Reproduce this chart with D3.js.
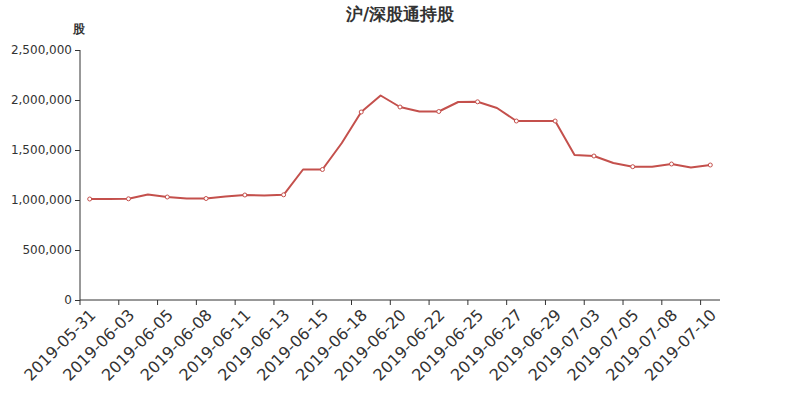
<!DOCTYPE html>
<html>
<head>
<meta charset="utf-8">
<script src="https://cdn.jsdelivr.net/npm/d3@7"></script>
<style>
  body { margin: 0; background: #fff; }
  svg { display: block; font-family: "DejaVu Sans", sans-serif; }
</style>
</head>
<body>
<svg id="chart" width="800" height="400"></svg>
<script>
const categories = [
  "2019-05-31","2019-06-01","2019-06-03","2019-06-04","2019-06-05","2019-06-06",
  "2019-06-08","2019-06-10","2019-06-11","2019-06-12","2019-06-13","2019-06-14",
  "2019-06-15","2019-06-17","2019-06-18","2019-06-19","2019-06-20","2019-06-21",
  "2019-06-22","2019-06-24","2019-06-25","2019-06-26","2019-06-27","2019-06-28",
  "2019-06-29","2019-07-02","2019-07-03","2019-07-04","2019-07-05","2019-07-06",
  "2019-07-08","2019-07-09","2019-07-10"
];
const holdings = [
  1010000, 1010000, 1012000, 1055000, 1030000, 1015000,
  1015000, 1035000, 1050000, 1045000, 1052000, 1305000,
  1305000, 1570000, 1880000, 2045000, 1930000, 1885000,
  1885000, 1980000, 1982000, 1920000, 1790000, 1790000,
  1790000, 1450000, 1440000, 1370000, 1333000, 1333000,
  1360000, 1325000, 1350000
];
const yTicks = [0, 500000, 1000000, 1500000, 2000000, 2500000];
const titleText = "沪/深股通持股";
const yAxisName = "股";

const svg = d3.select("#chart");
const margin = { left: 80, right: 80, top: 50, bottom: 100 };
const W = 800, H = 400;
const lineColor = "#c4504c";
const axisColor = "#333";

const x = d3.scaleBand().domain(categories).range([margin.left, W - margin.right]);
const y = d3.scaleLinear().domain([0, 2500000]).range([H - margin.bottom, margin.top]);
const fmt = d3.format(",");

// Title
svg.append("text")
  .attr("x", 400).attr("y", 20)
  .attr("text-anchor", "middle")
  .attr("font-size", 17).attr("font-weight", "bold")
  .attr("fill", "#333")
  .text(titleText);

// Y axis name
svg.append("text")
  .attr("x", 79).attr("y", 33)
  .attr("text-anchor", "middle")
  .attr("font-size", 12).attr("font-weight", "bold")
  .attr("fill", "#333")
  .text(yAxisName);

// Y axis
const yAxis = d3.axisLeft(y).tickValues(yTicks).tickFormat(fmt).tickSize(5).tickPadding(3);
const gy = svg.append("g").attr("transform", `translate(${margin.left},0)`).call(yAxis);
gy.select(".domain").attr("stroke", axisColor).attr("d", `M0,${y(2500000)}V${y(0)}`);
gy.selectAll(".tick line").attr("stroke", axisColor);
gy.selectAll(".tick text").attr("fill", axisColor).attr("font-size", 12).attr("font-family", "DejaVu Sans");

// X axis
const step = x.step();
const xAxisG = svg.append("g").attr("transform", `translate(0,${y(0)})`);
xAxisG.append("line")
  .attr("x1", margin.left).attr("x2", W - margin.right)
  .attr("y1", 0).attr("y2", 0)
  .attr("stroke", axisColor);
const labeled = categories.filter((d, i) => i % 2 === 0);
xAxisG.selectAll("line.tick").data(labeled).enter().append("line")
  .attr("class", "tick")
  .attr("x1", d => x(d)).attr("x2", d => x(d))
  .attr("y1", 0).attr("y2", 5)
  .attr("stroke", axisColor);
xAxisG.selectAll("text.lbl").data(labeled).enter().append("text")
  .attr("class", "lbl")
  .attr("text-anchor", "end")
  .attr("dy", "0.35em")
  .attr("font-size", 16)
  .attr("fill", axisColor)
  .attr("transform", d => `translate(${x(d) + x.bandwidth() / 2 + 3},12) rotate(-45)`)
  .text(d => d);

// Line
const cx = (d, i) => x(categories[i]) + x.bandwidth() / 2;
const line = d3.line().x((d, i) => cx(d, i)).y(d => y(d));
svg.append("path")
  .datum(holdings)
  .attr("fill", "none")
  .attr("stroke", lineColor)
  .attr("stroke-width", 2)
  .attr("stroke-linejoin", "round")
  .attr("d", line);

// Markers (every other point)
svg.selectAll("circle.pt")
  .data(holdings.map((v, i) => ({ v, i })).filter(d => d.i % 2 === 0))
  .enter().append("circle")
  .attr("class", "pt")
  .attr("cx", d => cx(d.v, d.i))
  .attr("cy", d => y(d.v))
  .attr("r", 2)
  .attr("fill", "#fff")
  .attr("stroke", lineColor)
  .attr("stroke-width", 1);
</script>
</body>
</html>
